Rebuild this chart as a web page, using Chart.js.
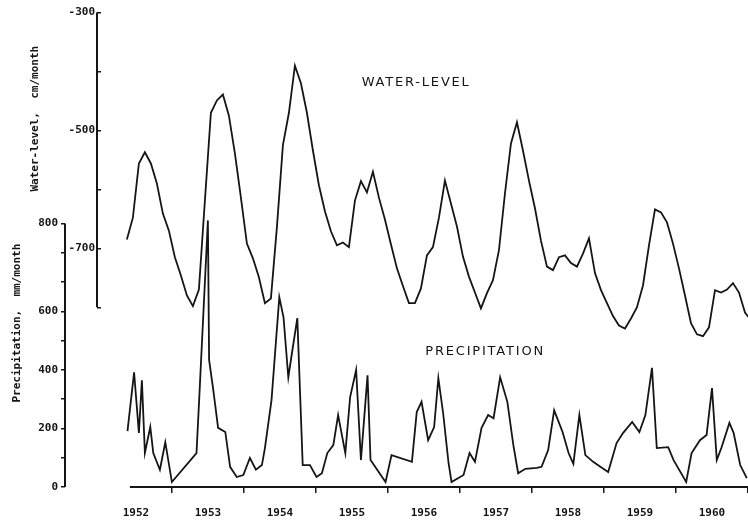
<!DOCTYPE html>
<html>
<head>
<meta charset="utf-8">
<script src="https://cdn.jsdelivr.net/npm/chart.js@4.4.1/dist/chart.umd.min.js"></script>
<style>
  html, body { margin: 0; padding: 0; background: #fff; }
</style>
</head>
<body>
<canvas id="grafica" width="748" height="525"></canvas>
<script>
// x is counted in months from 1 Jan 1952 (12 = 1 Jan 1953, ...)
const waterStart = 4.5; // first water-level reading, mid May 1952

// water-level, cm/month, one value per month
const waterLevel = [
  -685, -648, -556, -537, -556, -590, -641, -670, -715, -746,
  -780, -798, -770, -619, -470, -449, -439, -475, -539, -614,
  -692, -717, -749, -793, -785, -664, -525, -470, -390, -420,
  -470, -534, -593, -637, -671, -695, -690, -698, -619, -586,
  -605, -570, -614, -651, -693, -734, -764, -793, -793, -768,
  -712, -698, -648, -585, -624, -663, -714, -748, -775, -802,
  -776, -754, -703, -607, -522, -486, -534, -585, -632, -687,
  -731, -737, -715, -712, -725, -731, -709, -683, -742, -771,
  -793, -815, -831, -836, -819, -800, -763, -695, -634, -639,
  -656, -692, -734, -780, -827, -846, -849, -834, -771, -775,
  -770, -759, -775, -809, -822
];

// precipitation, mm/month, read at the line's corners
const precipMonth = [
  4.6, 5.7, 6.5, 7.0, 7.5, 8.4, 8.9, 10.0, 10.9, 12.0,
  16.1, 16.6, 18.0, 18.2, 18.9, 19.7, 20.9, 21.7, 22.8, 23.9,
  25.0, 26.0, 27.0, 27.5, 28.6, 29.9, 30.6, 31.4, 32.0, 32.9,
  33.4, 33.8, 35.0, 36.1, 37.0, 37.9, 38.9, 39.7, 40.9, 41.7,
  42.7, 43.5, 44.6, 45.1, 47.6, 48.6, 52.0, 52.8, 53.6, 54.7,
  55.7, 56.4, 57.2, 58.1, 58.6, 60.6, 61.6, 62.5, 63.6, 64.7,
  65.6, 66.7, 67.9, 68.9, 69.7, 70.9, 72.8, 73.6, 74.7, 75.7,
  77.1, 78.1, 78.9, 79.9, 80.9, 82.2, 83.4, 84.7, 86.1, 87.2,
  88.7, 89.9, 90.9, 92.0, 92.8, 94.7, 95.6, 97.7, 98.6, 100.0,
  101.1, 102.0, 102.8, 103.6, 104.9, 105.6, 106.7, 107.8
];
const precipValue = [
  191, 392, 185, 365, 116, 205, 116, 59, 153, 17,
  116, 321, 911, 434, 331, 202, 188, 69, 34, 41,
  99, 59, 75, 133, 297, 649, 580, 375, 457, 577,
  297, 75, 75, 34, 47, 116, 143, 246, 116, 307,
  400, 92, 382, 92, 17, 109, 86, 256, 291, 160,
  205, 372, 252, 82, 17, 41, 116, 86, 202, 246,
  235, 375, 291, 143, 47, 62, 65, 69, 126, 262,
  188, 116, 79, 246, 109, 86, 69, 51, 150, 185,
  222, 188, 246, 407, 133, 136, 92, 17, 116, 160,
  178, 338, 92, 136, 219, 185, 75, 30
];

const yearLabels = [1952, 1953, 1954, 1955, 1956, 1957, 1958, 1959, 1960];
const waterTicks = [-300, -400, -500, -600, -700, -800];
const waterLabels = ['-300', '', '-500', '', '-700', ''];
// tick labels as printed on the original precipitation axis
const precipTicks = [0, 100, 200, 300, 400, 500, 600, 700, 800, 900];
const precipLabels = ['0', '', '200', '', '400', '', '600', '', '', '800'];

const ink = '#151515';
const monoFont = { family: '"DejaVu Sans Mono", "Liberation Mono", monospace', size: 11, weight: 'bold' };

// axis lines only run over the labelled part of each scale
const axisLines = {
  id: 'axisLines',
  afterDraw(chart) {
    const { ctx, scales: { x, yW, yP } } = chart;
    ctx.save();
    ctx.strokeStyle = ink;
    ctx.lineWidth = 2;
    ctx.beginPath();
    ctx.moveTo(yW.right, yW.getPixelForValue(-300));
    ctx.lineTo(yW.right, yW.getPixelForValue(-800));
    ctx.moveTo(yP.right, yP.getPixelForValue(900));
    ctx.lineTo(yP.right, yP.getPixelForValue(0));
    ctx.moveTo(x.getPixelForValue(5), x.top);
    ctx.lineTo(x.right, x.top);
    ctx.stroke();

    // series names inside the plot
    ctx.fillStyle = ink;
    ctx.textAlign = 'center';
    ctx.textBaseline = 'middle';
    ctx.font = '13px "DejaVu Sans", sans-serif';
    ctx.letterSpacing = '1.8px';
    ctx.fillText('WATER-LEVEL', x.getPixelForValue(52.7), yW.getPixelForValue(-419));
    ctx.fillText('PRECIPITATION', x.getPixelForValue(64.2), yP.getPixelForValue(461));

    // axis titles
    ctx.letterSpacing = '0px';
    ctx.font = 'bold 11px "DejaVu Sans Mono", monospace';
    ctx.save();
    ctx.translate(yP.left + 35, yW.getPixelForValue(-480));
    ctx.rotate(-Math.PI / 2);
    ctx.fillText('Water-level,  cm/month', 0, 0);
    ctx.restore();
    ctx.save();
    ctx.translate(yP.left + 17, yP.getPixelForValue(560));
    ctx.rotate(-Math.PI / 2);
    ctx.fillText('Precipitation,  mm/month', 0, 0);
    ctx.restore();
    ctx.restore();
  }
};

const config = {
  type: 'line',
  data: {
    datasets: [
      {
        label: 'Water-level',
        yAxisID: 'yW',
        data: waterLevel.map((v, i) => ({ x: waterStart + i, y: v })),
        borderColor: ink,
        borderWidth: 1.8,
        pointRadius: 0,
        tension: 0
      },
      {
        label: 'Precipitation',
        yAxisID: 'yP',
        data: precipMonth.map((m, i) => ({ x: m, y: precipValue[i] })),
        borderColor: ink,
        borderWidth: 1.8,
        pointRadius: 0,
        tension: 0
      }
    ]
  },
  options: {
    responsive: false,
    devicePixelRatio: 1,
    animation: false,
    events: [],
    layout: { padding: { top: 12, right: 0, bottom: 0, left: 0 } },
    plugins: { legend: { display: false }, tooltip: { enabled: false } },
    scales: {
      x: {
        type: 'linear',
        position: 'bottom',
        min: -0.48,
        max: 108,
        border: { display: false },
        grid: {
          drawOnChartArea: false,
          tickLength: 6,
          lineWidth: 1.5,
          color: c => (c.tick && c.tick.value % 12 === 0) ? ink : 'rgba(0,0,0,0)'
        },
        ticks: {
          autoSkip: false,
          maxRotation: 0,
          padding: 14,
          color: ink,
          font: monoFont,
          callback: v => (v % 12 === 6) ? String(yearLabels[(v - 6) / 12]) : ''
        },
        afterBuildTicks: s => {
          const t = [];
          yearLabels.forEach((y, k) => { t.push({ value: 6 + 12 * k }); t.push({ value: 12 + 12 * k }); });
          s.ticks = t;
        },
        afterFit: s => { s.height = 38; s.paddingLeft = 0; s.paddingRight = 0; }
      },
      yP: {
        type: 'linear',
        position: 'left',
        weight: 2,
        min: 0,
        max: 1621,
        border: { display: false },
        grid: { drawOnChartArea: false, tickLength: 4, lineWidth: 1.5, color: ink },
        ticks: {
          padding: 3,
          color: ink,
          font: monoFont,
          callback: (v, i) => precipLabels[i]
        },
        afterBuildTicks: s => { s.ticks = precipTicks.map(v => ({ value: v })); },
        afterFit: s => { s.width = 65; }
      },
      yW: {
        type: 'linear',
        position: 'left',
        weight: 1,
        min: -1105,
        max: -300,
        border: { display: false },
        grid: { drawOnChartArea: false, tickLength: -4, lineWidth: 1.5, color: ink },
        ticks: {
          padding: 6,
          color: ink,
          font: monoFont,
          callback: (v, i) => waterLabels[i]
        },
        afterBuildTicks: s => { s.ticks = waterTicks.map(v => ({ value: v })); },
        afterFit: s => { s.width = 32; }
      }
    }
  },
  plugins: [axisLines]
};

new Chart(document.getElementById('grafica'), config);
</script>
</body>
</html>
